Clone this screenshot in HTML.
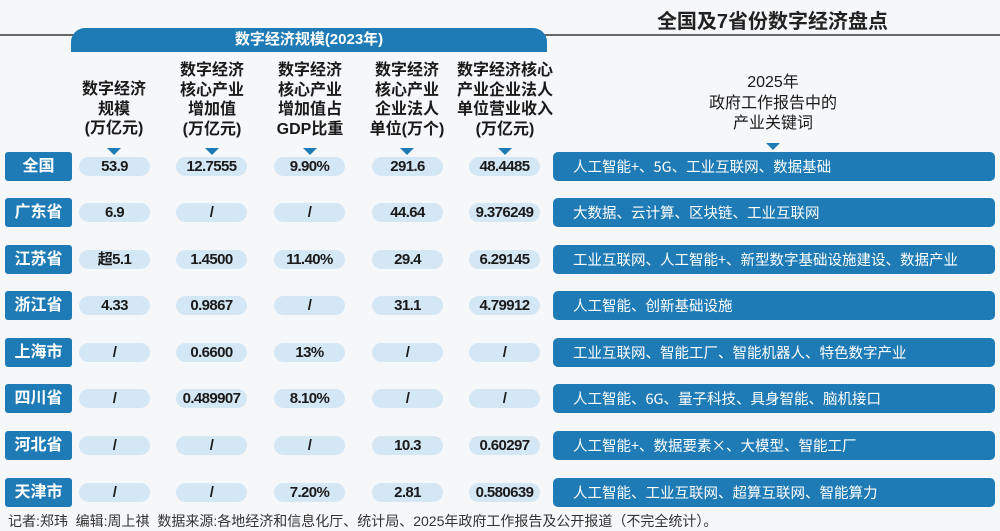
<!DOCTYPE html>
<html><head><meta charset="utf-8"><style>
*{margin:0;padding:0;box-sizing:border-box}
body{width:1000px;height:531px;background:#f6f7f9;position:relative;overflow:hidden;font-family:"Liberation Sans","Noto Sans CJK SC",sans-serif;color:#1a1a1a}
.a{position:absolute}
.title{left:540px;width:465px;top:5px;text-align:center;font-size:20px;font-weight:bold;color:#222}
.line{left:0;top:34px;width:1000px;height:1.5px;background:#666}
.band{left:71px;top:28px;width:476px;height:24px;background:#1f7bb6;border-radius:14px 14px 0 0;color:#fff;text-align:center;font-weight:bold;font-size:15px;line-height:24px}
.hd{width:100px;text-align:center;font-size:16px;font-weight:bold;line-height:19.5px;color:#1a1a1a}
.tri{width:0;height:0;border-left:7px solid transparent;border-right:7px solid transparent;border-top:7px solid #1f7bb6}
.lab{left:5px;width:67px;height:29px;background:#1f7bb6;border-radius:3px;color:#fff;font-weight:bold;font-size:16px;display:flex;align-items:center;justify-content:center;font-family:"Noto Sans CJK SC",sans-serif;line-height:1}
.lab span{position:relative;top:-3px}
.pill{width:71px;height:19px;background:#d4e7f5;border-radius:10px;font-weight:bold;font-size:15px;letter-spacing:-0.6px;color:#1a1a1a;display:flex;align-items:center;justify-content:center;line-height:1}
.kw{left:553px;width:442px;height:29px;background:#1f7bb6;border-radius:5px;color:#fff;font-size:14.5px;padding-left:20px;display:flex;align-items:center;font-family:"Noto Sans CJK SC",sans-serif;line-height:1}
.kw span{position:relative;top:1px}
.foot{left:8px;top:511px;font-size:14px;color:#333}
</style></head><body>
<div class="a title">全国及7省份数字经济盘点</div>
<div class="a line"></div>
<div class="a band">数字经济规模(2023年)</div>

<div class="a hd" style="left:64px;top:80px">数字经济<br>规模<br>(万亿元)</div>
<div class="a hd" style="left:162px;top:61px">数字经济<br>核心产业<br>增加值<br>(万亿元)</div>
<div class="a hd" style="left:260px;top:61px">数字经济<br>核心产业<br>增加值占<br>GDP比重</div>
<div class="a hd" style="left:357px;top:61px">数字经济<br>核心产业<br>企业法人<br>单位(万个)</div>
<div class="a hd" style="left:445px;top:61px;width:120px">数字经济核心<br>产业企业法人<br>单位营业收入<br>(万亿元)</div>
<div class="a hd" style="left:673px;top:73px;width:200px;font-weight:normal;font-size:16px;line-height:20.5px">2025年<br>政府工作报告中的<br>产业关键词</div>

<div class="a tri" style="left:107px;top:148px"></div>
<div class="a tri" style="left:205px;top:148px"></div>
<div class="a tri" style="left:303px;top:148px"></div>
<div class="a tri" style="left:400px;top:148px"></div>
<div class="a tri" style="left:498px;top:148px"></div>
<div class="a tri" style="left:766px;top:143px"></div>

<div class="a lab" style="top:152px"><span>全国</span></div>
<div class="a pill" style="left:79px;top:157px">53.9</div>
<div class="a pill" style="left:176px;top:157px">12.7555</div>
<div class="a pill" style="left:274px;top:157px">9.90%</div>
<div class="a pill" style="left:372px;top:157px">291.6</div>
<div class="a pill" style="left:469px;top:157px">48.4485</div>
<div class="a kw" style="top:152px"><span>人工智能+、5G、工业互联网、数据基础</span></div>

<div class="a lab" style="top:198px"><span>广东省</span></div>
<div class="a pill" style="left:79px;top:203px">6.9</div>
<div class="a pill" style="left:176px;top:203px">/</div>
<div class="a pill" style="left:274px;top:203px">/</div>
<div class="a pill" style="left:372px;top:203px">44.64</div>
<div class="a pill" style="left:469px;top:203px">9.376249</div>
<div class="a kw" style="top:198px"><span>大数据、云计算、区块链、工业互联网</span></div>

<div class="a lab" style="top:245px"><span>江苏省</span></div>
<div class="a pill" style="left:79px;top:250px">超5.1</div>
<div class="a pill" style="left:176px;top:250px">1.4500</div>
<div class="a pill" style="left:274px;top:250px">11.40%</div>
<div class="a pill" style="left:372px;top:250px">29.4</div>
<div class="a pill" style="left:469px;top:250px">6.29145</div>
<div class="a kw" style="top:245px"><span>工业互联网、人工智能+、新型数字基础设施建设、数据产业</span></div>

<div class="a lab" style="top:291px"><span>浙江省</span></div>
<div class="a pill" style="left:79px;top:296px">4.33</div>
<div class="a pill" style="left:176px;top:296px">0.9867</div>
<div class="a pill" style="left:274px;top:296px">/</div>
<div class="a pill" style="left:372px;top:296px">31.1</div>
<div class="a pill" style="left:469px;top:296px">4.79912</div>
<div class="a kw" style="top:291px"><span>人工智能、创新基础设施</span></div>

<div class="a lab" style="top:338px"><span>上海市</span></div>
<div class="a pill" style="left:79px;top:343px">/</div>
<div class="a pill" style="left:176px;top:343px">0.6600</div>
<div class="a pill" style="left:274px;top:343px">13%</div>
<div class="a pill" style="left:372px;top:343px">/</div>
<div class="a pill" style="left:469px;top:343px">/</div>
<div class="a kw" style="top:338px"><span>工业互联网、智能工厂、智能机器人、特色数字产业</span></div>

<div class="a lab" style="top:384px"><span>四川省</span></div>
<div class="a pill" style="left:79px;top:389px">/</div>
<div class="a pill" style="left:176px;top:389px">0.489907</div>
<div class="a pill" style="left:274px;top:389px">8.10%</div>
<div class="a pill" style="left:372px;top:389px">/</div>
<div class="a pill" style="left:469px;top:389px">/</div>
<div class="a kw" style="top:384px"><span>人工智能、6G、量子科技、具身智能、脑机接口</span></div>

<div class="a lab" style="top:431px"><span>河北省</span></div>
<div class="a pill" style="left:79px;top:436px">/</div>
<div class="a pill" style="left:176px;top:436px">/</div>
<div class="a pill" style="left:274px;top:436px">/</div>
<div class="a pill" style="left:372px;top:436px">10.3</div>
<div class="a pill" style="left:469px;top:436px">0.60297</div>
<div class="a kw" style="top:431px"><span>人工智能+、数据要素×、大模型、智能工厂</span></div>

<div class="a lab" style="top:478px"><span>天津市</span></div>
<div class="a pill" style="left:79px;top:483px">/</div>
<div class="a pill" style="left:176px;top:483px">/</div>
<div class="a pill" style="left:274px;top:483px">7.20%</div>
<div class="a pill" style="left:372px;top:483px">2.81</div>
<div class="a pill" style="left:469px;top:483px">0.580639</div>
<div class="a kw" style="top:478px"><span>人工智能、工业互联网、超算互联网、智能算力</span></div>

<div class="a foot">记者:郑玮&nbsp;&nbsp;编辑:周上祺&nbsp;&nbsp;数据来源:各地经济和信息化厅、统计局、2025年政府工作报告及公开报道（不完全统计）。</div>
</body></html>
